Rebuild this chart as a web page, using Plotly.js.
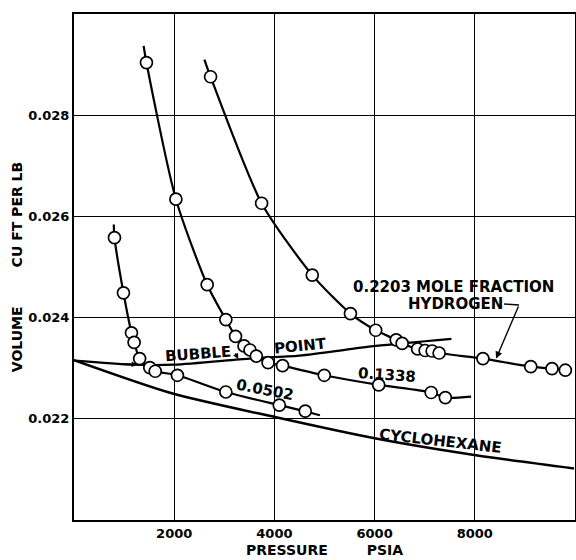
<!DOCTYPE html>
<html>
<head>
<meta charset="utf-8">
<script src="https://cdn.plot.ly/plotly-3.0.1.min.js"></script>
<style>html,body{margin:0;padding:0;background:#fff;}#chart{width:576px;height:560px;}</style>
</head>
<body>
<div id="chart"></div>
<script>
// ---- data ----
// 0.0502 mole fraction hydrogen
const p0502 = [808, 987, 1147, 1200, 1310, 1513, 1621, 2064, 3031, 4098, 4616];
const v0502 = [0.02558, 0.02449, 0.02370, 0.02351, 0.02319, 0.02301, 0.02294, 0.02286, 0.02253, 0.02227, 0.02215];
const p0502Curve = [794, 808, 987, 1147, 1200, 1310, 1513, 1621, 2064, 3031, 4098, 4616, 4909];
const v0502Curve = [0.02584, 0.02558, 0.02449, 0.02370, 0.02351, 0.02319, 0.02301, 0.02294, 0.02286, 0.02253, 0.02227, 0.02215, 0.02207];

// 0.1338 mole fraction hydrogen
const p1338 = [1446, 2034, 2658, 3031, 3224, 3394, 3513, 3639, 3874, 4163, 4995, 6082, 7129, 7412];
const v1338 = [0.02904, 0.02634, 0.02465, 0.02396, 0.02363, 0.02344, 0.02336, 0.02324, 0.02311, 0.02305, 0.02286, 0.02267, 0.02252, 0.02242];
const p1338Curve = [1390, 1446, 2034, 2658, 3031, 3224, 3394, 3513, 3639, 3874, 4163, 4995, 6082, 7129, 7412, 7926];
const v1338Curve = [0.02937, 0.02904, 0.02634, 0.02465, 0.02396, 0.02363, 0.02344, 0.02336, 0.02324, 0.02311, 0.02305, 0.02286, 0.02267, 0.02252, 0.02242, 0.02244];

// 0.2203 mole fraction hydrogen
const p2203 = [2726, 3745, 4756, 5518, 6022, 6431, 6550, 6859, 7009, 7149, 7288, 8162, 9117, 9541, 9807];
const v2203 = [0.02876, 0.02626, 0.02484, 0.02408, 0.02375, 0.02356, 0.02349, 0.02338, 0.02335, 0.02334, 0.02330, 0.02319, 0.02303, 0.02299, 0.02296];
const p2203Curve = [2602, 2726, 3745, 4756, 5518, 6022, 6431, 6550, 6859, 7009, 7149, 7288, 8162, 9117, 9541, 9807];
const v2203Curve = [0.02910, 0.02876, 0.02626, 0.02484, 0.02408, 0.02375, 0.02356, 0.02349, 0.02338, 0.02335, 0.02334, 0.02330, 0.02319, 0.02303, 0.02299, 0.02296];

// bubble point line
const pBubble = [0, 1166, 2004, 3500, 4497, 6026, 7533];
const vBubble = [0.02315, 0.02307, 0.02307, 0.02319, 0.02325, 0.02344, 0.02358];

// pure cyclohexane
const pCyclo = [0, 1970, 4032, 6026, 8020, 9980];
const vCyclo = [0.02316, 0.02250, 0.02203, 0.02161, 0.02128, 0.02102];

const xTicks = [2000, 4000, 6000, 8000];
const xTickText = ['2000', '4000', '6000', '8000'];
const yTicks = [0.022, 0.024, 0.026, 0.028];
const yTickText = ['0.022', '0.024', '0.026', '0.028'];

// ---- plot ----
const FONT = 'DejaVu Sans, Liberation Sans, sans-serif';
const lineStyle = {color: '#000', width: 2.2, shape: 'spline', smoothing: 0.7};
const markerStyle = {symbol: 'circle', size: 12, color: '#fff', line: {color: '#000', width: 1.7}};

function curve(x, y, w) {
  return {x: x, y: y, mode: 'lines', type: 'scatter', line: Object.assign({}, lineStyle, w ? {width: w} : {}), hoverinfo: 'skip', showlegend: false};
}
function pts(x, y) {
  return {x: x, y: y, mode: 'markers', type: 'scatter', marker: markerStyle, showlegend: false};
}

const traces = [
  curve(pCyclo, vCyclo, 2.5),
  curve(pBubble, vBubble, 2.3),
  curve(p0502Curve, v0502Curve),
  curve(p1338Curve, v1338Curve),
  curve(p2203Curve, v2203Curve),
  pts(p0502, v0502),
  pts(p1338, v1338),
  pts(p2203, v2203)
];

const tf = {family: FONT, size: 15, color: '#000', weight: 'bold'};
const annotations = [
  {x: 2473, y: 0.02329, text: 'BUBBLE', showarrow: false, textangle: -4, font: tf},
  {x: 4526, y: 0.023437, text: 'POINT', showarrow: false, textangle: -6, font: tf},
  {x: 3819, y: 0.022569, text: '0.0502', showarrow: false, textangle: 11, font: tf},
  {x: 6251, y: 0.022867, text: '0.1338', showarrow: false, textangle: 4, font: tf},
  {x: 7567, y: 0.024599, text: '0.2203 MOLE FRACTION', showarrow: false, font: tf},
  {x: 7607, y: 0.024271, text: 'HYDROGEN', showarrow: false, font: tf},
  {x: 7308, y: 0.021556, text: 'CYCLOHEXANE', showarrow: false, textangle: 6.5, font: tf},
  // leader arrow to 0.2203 curve
  {x: 8425, y: 0.02319, ax: 8883, ay: 0.02425, axref: 'x', ayref: 'y', xref: 'x', yref: 'y', text: '', showarrow: true, arrowhead: 2, arrowsize: 1, arrowwidth: 1.4, arrowcolor: '#000'},
  // small bubble arrows
  {x: 3280, y: 0.02318, ax: 3200, ay: 0.02332, axref: 'x', ayref: 'y', text: '', showarrow: true, arrowhead: 2, arrowsize: 0.8, arrowwidth: 1.4, arrowcolor: '#000'},
  {x: 1260, y: 0.02307, ax: 950, ay: 0.02309, axref: 'x', ayref: 'y', text: '', showarrow: true, arrowhead: 2, arrowsize: 0.8, arrowwidth: 1.4, arrowcolor: '#000'}
];

const shapes = [
  {type: 'line', xref: 'x', yref: 'y', x0: 8584, y0: 0.02427, x1: 8883, y1: 0.02425, line: {color: '#000', width: 1.4}}
];

const sp = '&nbsp;'.repeat(8);
const tickFont = {family: FONT, size: 13, color: '#000', weight: 'bold'};
const titleFont = {family: FONT, size: 14, color: '#000', weight: 'bold'};

const layout = {
  width: 576, height: 560,
  margin: {l: 74, r: 1, t: 14, b: 40},
  paper_bgcolor: '#fff', plot_bgcolor: '#fff',
  font: {family: FONT, size: 13, color: '#000'},
  showlegend: false,
  xaxis: {
    range: [0, 10000], tickvals: xTicks, ticktext: xTickText,
    showgrid: true, gridcolor: '#000', gridwidth: 1.3,
    zeroline: false, showline: true, linecolor: '#000', linewidth: 2, mirror: true,
    ticks: '', tickfont: tickFont,
    title: {text: 'PRESSURE' + sp + 'PSIA', font: titleFont, standoff: 6}
  },
  yaxis: {
    range: [0.020, 0.030], tickvals: yTicks, ticktext: yTickText,
    showgrid: true, gridcolor: '#000', gridwidth: 1.3,
    zeroline: false, showline: true, linecolor: '#000', linewidth: 2, mirror: true,
    ticks: '', tickfont: tickFont,
    title: {text: 'VOLUME' + sp + 'CU FT PER LB', font: titleFont, standoff: 2}
  },
  annotations: annotations,
  shapes: shapes
};

Plotly.newPlot('chart', traces, layout, {displayModeBar: false, staticPlot: true});
</script>
</body>
</html>
